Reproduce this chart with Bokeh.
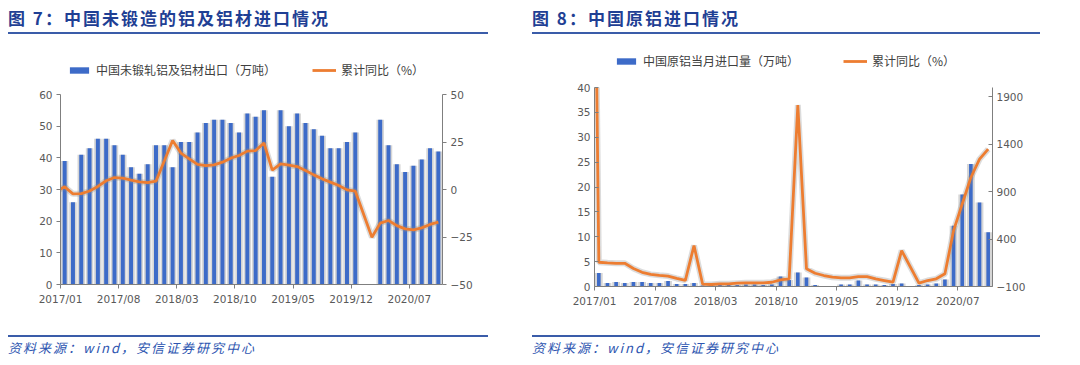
import numpy as np
from bokeh.plotting import figure
from bokeh.models import Range1d, LinearAxis, FixedTicker, Legend, LegendItem, Div, Spacer
from bokeh.layouts import row, column
from bokeh.embed import file_html
from bokeh.resources import INLINE

# ---------------- data ----------------
months = [
    "2017/01", "2017/02", "2017/03", "2017/04", "2017/05", "2017/06", "2017/07", "2017/08",
    "2017/09", "2017/10", "2017/11", "2017/12", "2018/01", "2018/02", "2018/03", "2018/04",
    "2018/05", "2018/06", "2018/07", "2018/08", "2018/09", "2018/10", "2018/11", "2018/12",
    "2019/01", "2019/02", "2019/03", "2019/04", "2019/05", "2019/06", "2019/07", "2019/08",
    "2019/09", "2019/10", "2019/11", "2019/12", "2020/01", "2020/02", "2020/03", "2020/04",
    "2020/05", "2020/06", "2020/07", "2020/08", "2020/09", "2020/10",
]
tick_labels = ["2017/01", "2017/08", "2018/03", "2018/10", "2019/05", "2019/12", "2020/07"]

# Fig 7: unwrought aluminium & products exports (10k t) and cumulative YoY (%)
export_vol = [
    39, 26, 41, 43, 46, 46, 44, 41, 37, 35, 38, 44,
    44, 37, 45, 45, 48, 51, 52, 52, 51, 48, 54, 53,
    55, 34, 55, 50, 54, 51, 49, 47, 43, 43, 45, 48,
    None, None, 52, 44, 38, 35.5, 37.5, 39.5, 43, 42,
]
export_yoy = [
    1.4, -2.3, -2.2, -0.8, 1.6, 4.6, 6.3, 6.0, 4.9, 4.0, 3.6, 4.4,
    15.0, 25.8, 19.2, 16.1, 13.2, 12.6, 13.0, 14.4, 16.5, 17.9, 20.2, 20.5,
    24.5, 10.2, 13.5, 12.8, 12.1, 10.0, 7.7, 5.6, 3.9, 2.1, -0.2, -0.9,
    None, -25.1, -17.7, -16.3, -19.0, -20.7, -21.2, -20.2, -18.4, -17.2,
]
export_yoy_prev = -1.0   # 2016/12, left of the axis

# Fig 8: primary aluminium monthly imports (10k t) and cumulative YoY (%)
import_vol = [
    2.7, 0.7, 0.9, 0.7, 0.9, 0.9, 0.7, 0.7, 1.1, 0.5, 0.5, 0.7,
    0.2, 0.3, 0.3, 0.4, 0.3, 0.4, 0.4, 0.3, 0.4, 2.0, 1.3, 2.8,
    1.8, 0.3, 0.1, 0.1, 0.4, 0.4, 1.2, 0.4, 0.4, 0.3, 0.5, 0.6,
    None, 0.3, 0.4, 0.6, 1.4, 12.2, 18.5, 24.6, 16.9, 10.9,
]
import_yoy = [
    156, 150, 145, 145, 90, 50, 28, 18, 10, -15, -35, 332,
    -76, -79, -72, -72, -65, -61, -61, -61, -55, -30, -19, 1815,
    86, 40, 16, -2, -8, -8, 5, 5, -19, -37, -55, 279,
    None, -65, -37, -19, 34, 489, 770, 1050, 1244, 1349,
]
import_yoy_prev = 8000   # 2016/12, left of the axis

# ---------------- styles ----------------
BLUE = "#3d6bc8"
SHADOW = "#d6d6d6"
ORANGE = "#ed7d31"
AXIS = "#7f7f7f"
LABEL = "#595959"
TITLE_BLUE = "#1f3f94"
RULE_BLUE = "#3a5ca9"
CJK = "Noto Sans CJK SC"
LEG_H = 45


def arr(vals):
    return np.array([np.nan if v is None else v for v in vals], dtype=float)


def series(vols, yoy, yoy_prev):
    x = np.arange(len(months), dtype=float)
    yv = arr(yoy)
    ok = ~np.isnan(yv)
    lx = np.concatenate([[-1.0], x[ok]])
    ly = np.concatenate([[yoy_prev], yv[ok]])
    return x, arr(vols), lx, ly


def style_axis(ax, tick_in=0, tick_out=4):
    ax.axis_line_color = AXIS
    ax.axis_line_width = 1
    ax.major_tick_line_color = AXIS
    ax.minor_tick_line_color = None
    ax.major_tick_in = tick_in
    ax.major_tick_out = tick_out
    ax.major_label_text_color = LABEL
    ax.major_label_text_font = "DejaVu Sans"
    ax.major_label_text_font_size = "10.5px"
    ax.major_label_standoff = 4


def make_chart(width, frame_left, frame_right, top, bottom, vols, yoy, yoy_prev,
               y_left, y_left_ticks, y_right, y_right_ticks, bar_w, tick_in):
    n = len(months)
    x, v, lx, ly = series(vols, yoy, yoy_prev)
    p = figure(width=width, height=296 - LEG_H, output_backend="svg", toolbar_location=None,
               x_range=Range1d(-0.5, n - 0.5), y_range=Range1d(*y_left),
               min_border_left=frame_left, min_border_right=frame_right,
               min_border_top=top, min_border_bottom=bottom)
    p.outline_line_color = None
    p.xgrid.visible = False
    p.ygrid.visible = False
    p.background_fill_color = "white"
    p.border_fill_color = "white"

    p.extra_y_ranges = {"yoy": Range1d(*y_right)}
    rax = LinearAxis(y_range_name="yoy", ticker=FixedTicker(ticks=y_right_ticks))
    p.add_layout(rax, "right")

    p.yaxis[0].ticker = FixedTicker(ticks=y_left_ticks)
    tick_pos = [months.index(t) - 0.5 for t in tick_labels]
    p.xaxis.ticker = FixedTicker(ticks=tick_pos)
    p.xaxis.major_label_overrides = {pos: lab for pos, lab in zip(tick_pos, tick_labels)}

    style_axis(p.xaxis[0], 0, 4)
    style_axis(p.yaxis[0], tick_in, 4 - tick_in)
    style_axis(rax, tick_in, 4 - tick_in)

    p.vbar(x=x, top=v, width=0.9, fill_color=SHADOW, line_color=None)
    p.vbar(x=x, top=v, width=bar_w, fill_color=BLUE, line_color=None)
    p.line(lx, ly, y_range_name="yoy", line_color="#8c8c8c", line_alpha=0.3, line_width=6)
    p.line(lx, ly, y_range_name="yoy", line_color=ORANGE, line_width=2.8)
    return p


def legend_fig(width, vols, yoy, yoy_prev, bar_label, line_label, lx0, ly0, spacing):
    # a strip above the chart that only shows the legend; the series are plotted
    # again with a y-range far above them, so only their legend swatches show
    n = len(months)
    x, v, lx, ly = series(vols, yoy, yoy_prev)
    f = figure(width=width, height=LEG_H, output_backend="svg", toolbar_location=None,
               x_range=Range1d(-0.5, n - 0.5), y_range=Range1d(1e6, 1e6 + 1),
               x_axis_location=None, y_axis_location=None,
               min_border_left=0, min_border_right=0, min_border_top=0, min_border_bottom=0)
    f.outline_line_color = None
    f.xgrid.visible = False
    f.ygrid.visible = False
    b = f.vbar(x=x, top=v, width=0.5, fill_color=BLUE, line_color=None)
    ln = f.line(lx, ly, line_color=ORANGE, line_width=2.8)
    legend = Legend(items=[LegendItem(label=bar_label, renderers=[b], index=0),
                           LegendItem(label=line_label, renderers=[ln])],
                    location=(lx0, ly0), orientation="horizontal")
    legend.border_line_color = None
    legend.background_fill_alpha = 0
    legend.padding = 0
    legend.margin = 0
    legend.spacing = spacing
    legend.glyph_width = 24
    legend.glyph_height = 8
    legend.label_height = 8
    legend.label_standoff = 5
    legend.label_text_font = CJK
    legend.label_text_font_size = "12px"
    legend.label_text_color = "#404040"
    f.add_layout(legend)
    return f


def title_div(text, width):
    style = (f"box-sizing:border-box;width:{width}px;height:34px;padding-top:8px;"
             f"border-bottom:2px solid {RULE_BLUE};"
             f"font-family:'{CJK}';font-weight:bold;font-size:17px;color:{TITLE_BLUE};"
             "letter-spacing:2px;line-height:20px;white-space:nowrap;margin:0;")
    return Div(text=f'<div style="{style}">{text}</div>', width=width, height=34,
               margin=(0, 0, 0, 0))


def source_div(width):
    inner = (f"box-sizing:content-box;border-top:2px solid {RULE_BLUE};padding-top:2px;margin:0;"
             f"font-family:'{CJK}';font-style:italic;font-size:13px;color:#2d55b0;"
             "letter-spacing:2px;line-height:18px;height:18px;white-space:nowrap;")
    html = (f'<div style="box-sizing:content-box;width:{width}px;padding-top:5px;margin:0;">'
            f'<div style="{inner}">资料来源：wind，安信证券研究中心</div></div>')
    return Div(text=html, width=width, height=27, margin=(0, 0, 0, 0))


p7 = make_chart(480, 52, 46, 15, 46, export_vol, export_yoy, export_yoy_prev,
                (0, 60), [0, 10, 20, 30, 40, 50, 60], (-50, 50), [-50, -25, 0, 25, 50],
                0.48, 0)
l7 = legend_fig(480, export_vol, export_yoy, export_yoy_prev,
                "中国未锻轧铝及铝材出口（万吨）", "累计同比（%）", 7, 1, 36)

p8 = make_chart(508, 62, 48, 8, 44, import_vol, import_yoy, import_yoy_prev,
                (0, 40), [0, 5, 10, 15, 20, 25, 30, 35, 40], (-100, 2000),
                [-100, 400, 900, 1400, 1900], 0.42, 4)
l8 = legend_fig(508, import_vol, import_yoy, import_yoy_prev,
                "中国原铝当月进口量（万吨）", "累计同比（%）", 20, 10, 44)

left = column(title_div("图 7：中国未锻造的铝及铝材进口情况", 480), l7, p7, source_div(480), spacing=0)
right = column(title_div("图 8：中国原铝进口情况", 508), l8, p8, source_div(508), spacing=0)
layout = row(Spacer(width=8, height=10), left, Spacer(width=44, height=10), right, spacing=0)

open("out.html", "w").write(file_html(layout, INLINE, "chart"))
